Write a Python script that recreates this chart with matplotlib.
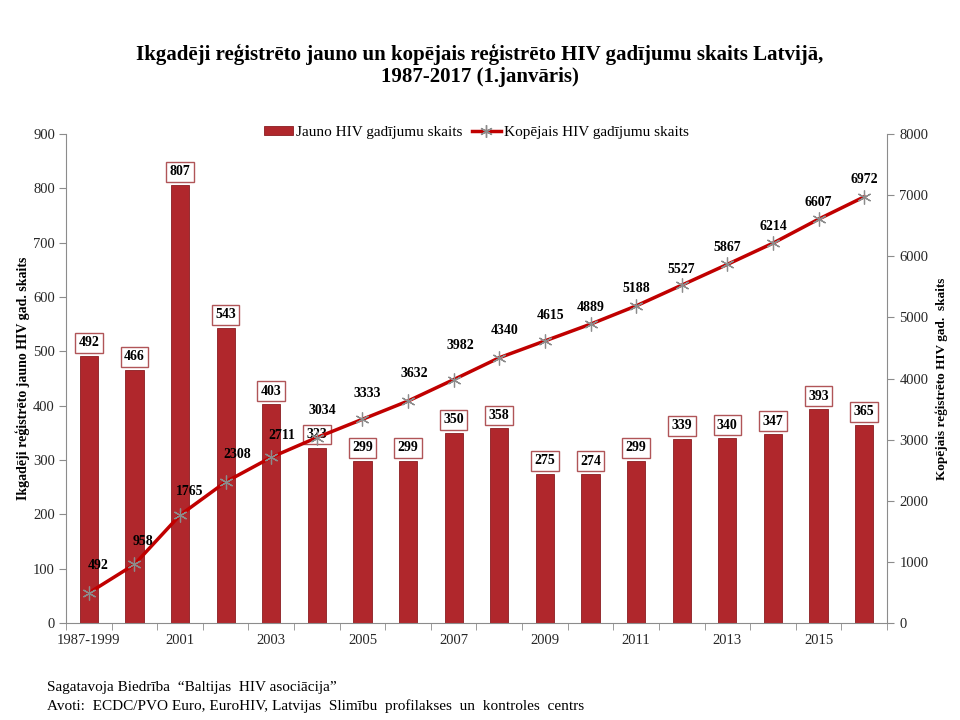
import numpy as np
import matplotlib
matplotlib.use("Agg")
import matplotlib.pyplot as plt
from matplotlib.lines import Line2D
from matplotlib.patches import Patch

plt.rcParams['font.family'] = ['Liberation Serif', 'DejaVu Serif']

categories = ['1987-1999', '2000', '2001', '2002', '2003', '2004', '2005', '2006',
              '2007', '2008', '2009', '2010', '2011', '2012', '2013', '2014', '2015', '2016']
new_cases = [492, 466, 807, 543, 403, 323, 299, 299, 350, 358, 275, 274, 299, 339, 340, 347, 393, 365]
cumulative = [492, 958, 1765, 2308, 2711, 3034, 3333, 3632, 3982, 4340, 4615, 4889, 5188, 5527,
              5867, 6214, 6607, 6972]

title = "Ikgadēji reģistrēto jauno un kopējais reģistrēto HIV gadījumu skaits Latvijā,\n1987-2017 (1.janvāris)"
left_label = "Ikgadēji reģistrēto jauno HIV gad. skaits"
right_label = "Kopējais reģistrēto HIV gad.  skaits"
bar_name = "Jauno HIV gadījumu skaits"
line_name = "Kopējais HIV gadījumu skaits"
footer1 = "Sagatavoja Biedrība  “Baltijas  HIV asociācija”"
footer2 = "Avoti:  ECDC/PVO Euro, EuroHIV, Latvijas  Slimību  profilakses  un  kontroles  centrs"

# label offsets for line labels (pixels)
lab_dx = [9, 9, 10, 12, 11, 5, 5, 6, 7, 5, 6, 0, 0, 0, 0, 0, 0, 0]
lab_dy = [27, 23, 24, 27, 22, 27, 26, 27, 34, 27, 25, 17, 17, 16, 17, 17, 17, 17]

BAR_C = '#B0272C'
LINE_C = '#C00000'
SPINE_C = '#8C8C8C'
TXT_C = '#262626'
PX = 0.72  # points per pixel at 100 dpi

fig = plt.figure(figsize=(9.6, 7.2), dpi=100)
ax = fig.add_axes([66 / 960, 97 / 720, (887 - 66) / 960, 489 / 720])
x = np.arange(len(categories))

ax.bar(x, new_cases, width=0.4, color=BAR_C, edgecolor='#8a1c20', linewidth=0.6, zorder=2)
ax.set_xlim(-0.5, len(categories) - 0.5)
ax.set_ylim(0, 900)
ax.set_yticks(np.arange(0, 901, 100))

for i, v in enumerate(new_cases):
    ax.annotate(str(v), (i, v), xytext=(0, 13 * PX), textcoords='offset points',
                ha='center', va='center', fontsize=10, fontweight='bold', color='black',
                bbox=dict(boxstyle='square,pad=0.25', fc='white', ec='#B05558', lw=1.0),
                zorder=3)

ax.set_xticks(x[::2])
ax.set_xticklabels(categories[::2])
ax.set_xticks(np.arange(-0.5, len(categories), 1), minor=True)
ax.tick_params(axis='x', which='major', length=0, pad=8, labelsize=10.5, labelcolor=TXT_C)
ax.tick_params(axis='x', which='minor', length=5, color=SPINE_C, direction='out')
ax.tick_params(axis='y', length=5, color=SPINE_C, direction='out', labelsize=10.5,
               labelcolor=TXT_C, pad=3)

for s in ['top', 'right']:
    ax.spines[s].set_visible(False)
for s in ['left', 'bottom']:
    ax.spines[s].set_color(SPINE_C)

ax.set_ylabel(left_label, fontsize=10, fontweight='bold', labelpad=2)

ax2 = ax.twinx()
ax2.set_ylim(0, 8000)
ax2.set_yticks(np.arange(0, 8001, 1000))
ax2.plot(x, cumulative, color=LINE_C, lw=2.5, marker=(6, 2, 0), markersize=10,
         markeredgecolor='#8C8C8C', markerfacecolor='none', markeredgewidth=0.9, zorder=4)
for i, v in enumerate(cumulative):
    ax2.annotate(str(v), (i, v), xytext=(lab_dx[i] * PX, lab_dy[i] * PX),
                 textcoords='offset points', ha='center', va='center',
                 fontsize=10, fontweight='bold', color='black', zorder=5)
for s in ['top', 'left', 'bottom']:
    ax2.spines[s].set_visible(False)
ax2.spines['right'].set_color(SPINE_C)
ax2.tick_params(axis='y', length=5, color=SPINE_C, direction='out', labelsize=10.5,
                labelcolor=TXT_C, pad=4)
ax2.set_ylabel(right_label, fontsize=9.5, fontweight='bold', labelpad=5)

handles = [Patch(facecolor=BAR_C, edgecolor='#8a1c20', lw=0.6),
           Line2D([0], [0], color=LINE_C, lw=2.5, marker=(6, 2, 0), markersize=9,
                  markeredgecolor='#8C8C8C', markerfacecolor='none')]
leg = ax.legend(handles, [bar_name, line_name], loc='center', bbox_to_anchor=(0.5, 1.004),
                ncol=2, frameon=False, fontsize=11, handlelength=1.9, handletextpad=0.2,
                columnspacing=0.6, handleheight=0.55)
leg.set_zorder(10)

fig.text(0.5, 1 - 65.5 / 720, title, ha='center', va='center', fontsize=15,
         fontweight='bold', linespacing=1.08)
fig.text(47 / 960, 1 - 687 / 720, footer1, ha='left', va='center', fontsize=11)
fig.text(47 / 960, 1 - 706 / 720, footer2, ha='left', va='center', fontsize=11)

fig.savefig('out.png', dpi=100)
